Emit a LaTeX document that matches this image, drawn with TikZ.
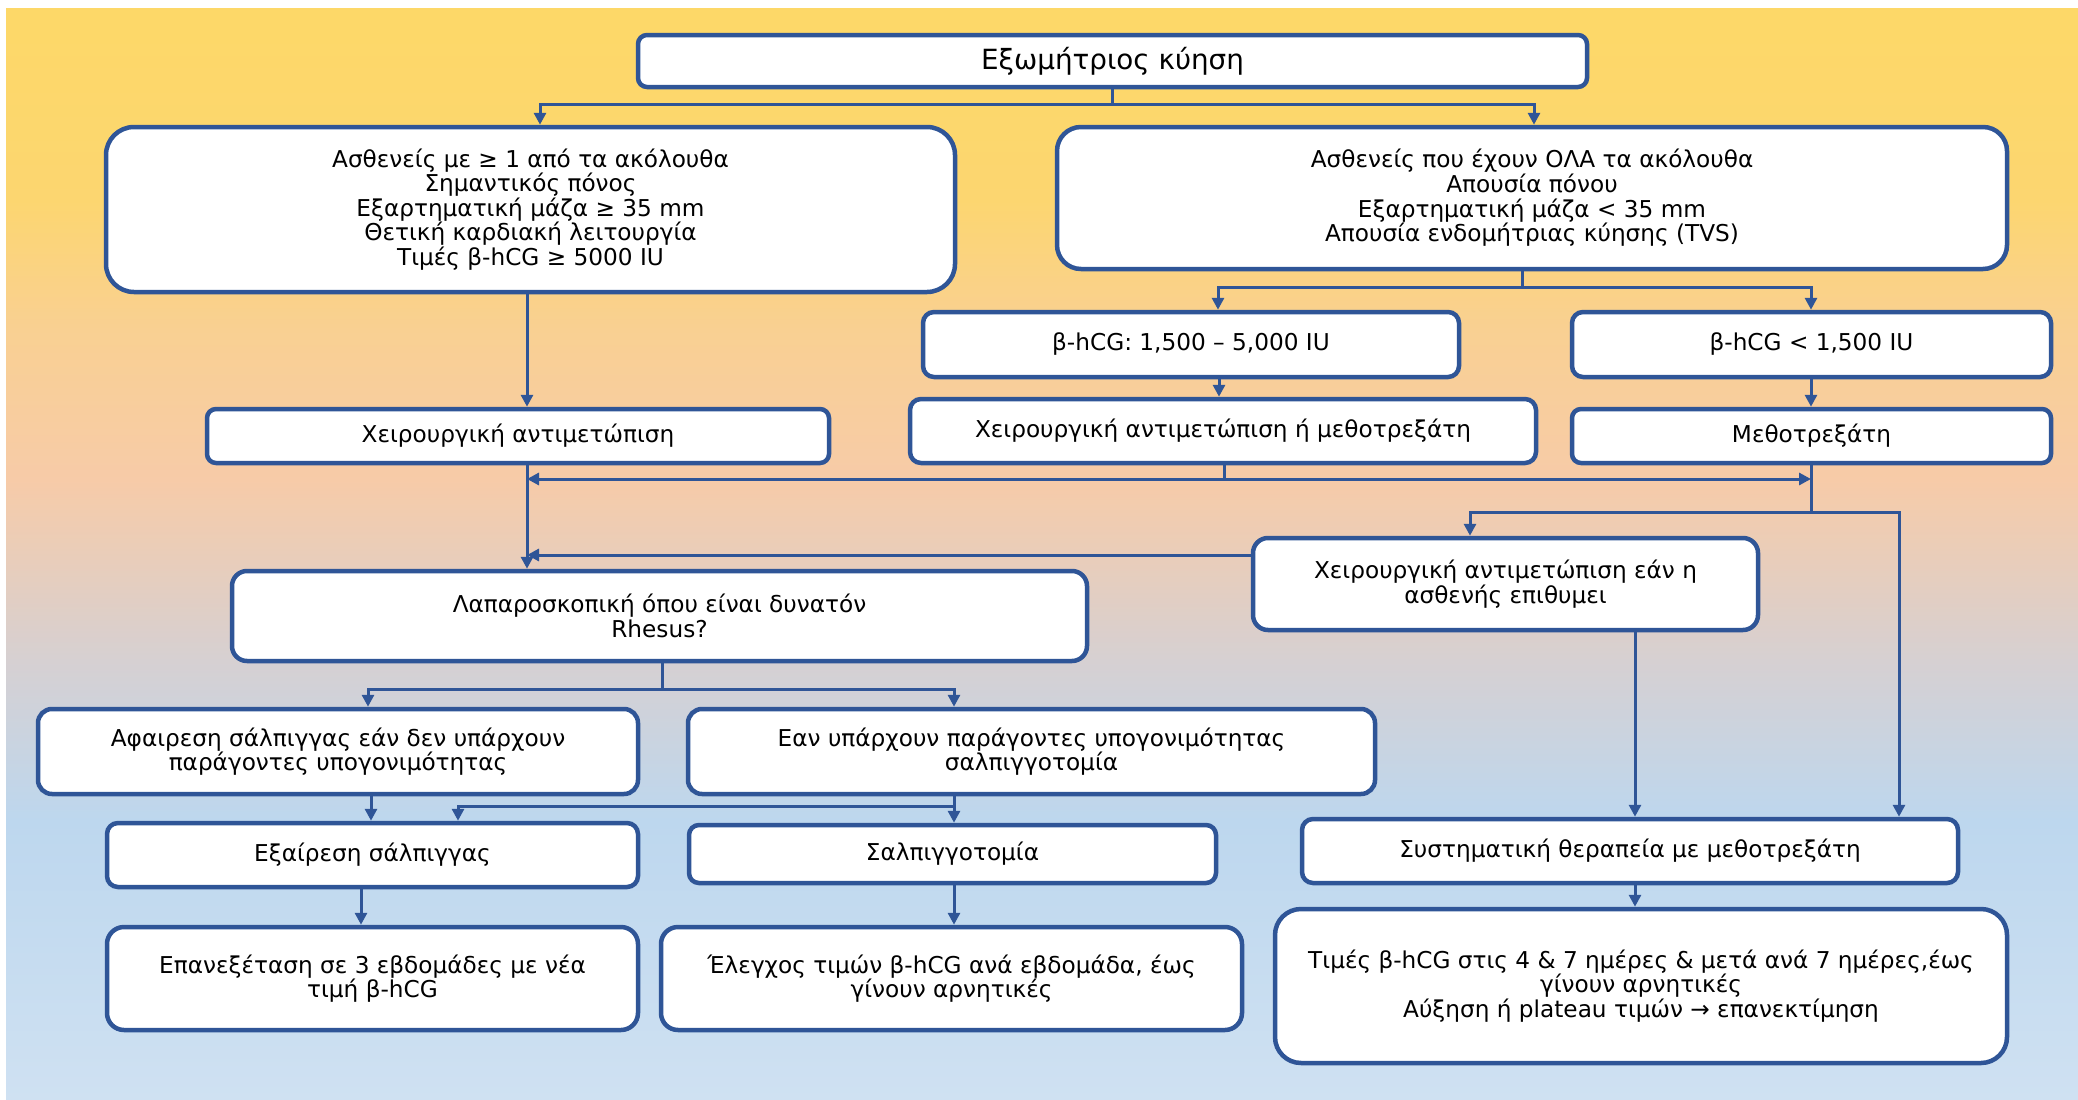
\documentclass[tikz,border=0pt]{standalone}
\usepackage{fontspec}
\setmainfont{DejaVu Sans}
\usetikzlibrary{arrows.meta}

\definecolor{edge}{RGB}{47,85,151}
\definecolor{bgA}{RGB}{207,225,242}
\definecolor{bgB}{RGB}{189,215,238}
\definecolor{bgC}{RGB}{214,208,210}
\definecolor{bgD}{RGB}{247,203,168}
\definecolor{bgE}{RGB}{249,208,146}
\definecolor{bgF}{RGB}{252,214,112}
\definecolor{bgG}{RGB}{253,216,104}

% page background: yellow at the top fading through peach to light blue
\pgfdeclareverticalshading{bgfade}{100bp}{%
  color(0bp)=(bgA); color(25bp)=(bgA); color(37.8bp)=(bgB);
  color(45.1bp)=(bgC); color(53.4bp)=(bgD); color(60.3bp)=(bgE);
  color(66.2bp)=(bgF); color(75bp)=(bgG); color(100bp)=(bgG)}

\tikzset{
  box/.style={draw=edge, line width=4.5pt, fill=white, align=center,
    inner sep=0pt, font=\fontsize{23.2}{24.6}\selectfont},
  link/.style={draw=edge, line width=3pt},
  arr/.style={link, -{Triangle[length=12pt,width=12pt]}},
}

\begin{document}
\begin{tikzpicture}[x=1pt,y=-1pt]
\useasboundingbox (0,0) rectangle (2078,1100);
\fill[white] (0,0) rectangle (2078,1100);
\shade[shading=bgfade] (6,8) rectangle (2078,1100);

% boxes
\node[box, minimum width=949, minimum height=52, rounded corners=9,
  font=\fontsize{27.8}{30}\selectfont] (T) at (1112.5,61) {Εξωμήτριος κύηση};
\node[box, minimum width=849, minimum height=165, rounded corners=28] (A) at (530.5,209.5)
  {Ασθενείς με ≥ 1 από τα ακόλουθα\\Σημαντικός πόνος\\Εξαρτηματική μάζα ≥ 35 mm\\Θετική καρδιακή λειτουργία\\Τιμές β-hCG ≥ 5000 IU};
\node[box, minimum width=950, minimum height=142, rounded corners=24] (B) at (1532,198)
  {Ασθενείς που έχουν ΟΛΑ τα ακόλουθα\\Απουσία πόνου\\Εξαρτηματική μάζα < 35 mm\\Απουσία ενδομήτριας κύησης (TVS)};
\node[box, minimum width=536, minimum height=65, rounded corners=11] (C1) at (1191,344.5)
  {β-hCG: 1,500 – 5,000 IU};
\node[box, minimum width=479, minimum height=65, rounded corners=11] (C2) at (1811.5,344.5)
  {β-hCG < 1,500 IU};
\node[box, minimum width=622, minimum height=54, rounded corners=9] (D1) at (518,436)
  {Χειρουργική αντιμετώπιση};
\node[box, minimum width=626, minimum height=64, rounded corners=11] (D2) at (1223,431)
  {Χειρουργική αντιμετώπιση ή μεθοτρεξάτη};
\node[box, minimum width=479, minimum height=54, rounded corners=9] (D3) at (1811.5,436)
  {Μεθοτρεξάτη};
\node[box, minimum width=855, minimum height=90, rounded corners=15] (E) at (659.5,616)
  {Λαπαροσκοπική όπου είναι δυνατόν\\Rhesus?};
\node[box, minimum width=505, minimum height=92, rounded corners=15] (F) at (1505.5,584)
  {Χειρουργική αντιμετώπιση εάν η\\ασθενής επιθυμει};
\node[box, minimum width=600, minimum height=85, rounded corners=14] (G1) at (338,751.5)
  {Αφαιρεση σάλπιγγας εάν δεν υπάρχουν\\παράγοντες υπογονιμότητας};
\node[box, minimum width=687, minimum height=85, rounded corners=14] (G2) at (1031.5,751.5)
  {Εαν υπάρχουν παράγοντες υπογονιμότητας\\σαλπιγγοτομία};
\node[box, minimum width=531, minimum height=64, rounded corners=11] (H1) at (372.5,855)
  {Εξαίρεση σάλπιγγας};
\node[box, minimum width=527, minimum height=58, rounded corners=10] (H2) at (952.5,854)
  {Σαλπιγγοτομία};
\node[box, minimum width=656, minimum height=64, rounded corners=11] (H3) at (1630,851)
  {Συστηματική θεραπεία με μεθοτρεξάτη};
\node[box, minimum width=531, minimum height=103, rounded corners=17] (I1) at (372.5,978.5)
  {Επανεξέταση σε 3 εβδομάδες με νέα\\τιμή β-hCG};
\node[box, minimum width=581, minimum height=103, rounded corners=17] (I2) at (951.5,978.5)
  {Έλεγχος τιμών β-hCG ανά εβδομάδα, έως\\γίνουν αρνητικές};
\node[box, minimum width=732, minimum height=154, rounded corners=26] (I3) at (1641,986)
  {Τιμές β-hCG στις 4 \& 7 ημέρες \& μετά ανά 7 ημέρες,έως\\γίνουν αρνητικές\\Αύξηση ή plateau τιμών → επανεκτίμηση};

% guide positions for the connector runs
\coordinate (xA) at (540,0);
\coordinate (xB) at (1534,0);
\coordinate (xL) at (527,0);
\coordinate (xC1) at (1218,0);
\coordinate (xR) at (1811,0);
\coordinate (xF) at (1470,0);
\coordinate (xM) at (1899,0);
\coordinate (xS) at (1635,0);
\coordinate (xG1) at (368,0);
\coordinate (xG2) at (954,0);
\coordinate (xH1) at (458,0);
\coordinate (xI1) at (361,0);
\coordinate (y1) at (0,104);
\coordinate (y2) at (0,287);
\coordinate (y3) at (0,479);
\coordinate (y4) at (0,512);
\coordinate (y5) at (0,555);
\coordinate (y6) at (0,689);
\coordinate (y7) at (0,806);

% first split
\draw[link] (T.south) -- (T.south |- y1);
\draw[arr] (T.south |- y1) -| (A.north -| xA);
\draw[arr] (T.south |- y1) -| (B.north -| xB);

% left branch down to surgery
\draw[arr] (A.south -| xL) -- (D1.north -| xL);

% right branch split by hCG level
\draw[link] (B.south -| 1522,0) -- (y2 -| 1522,0);
\draw[arr] (y2 -| 1522,0) -| (C1.north -| xC1);
\draw[arr] (y2 -| 1522,0) -| (C2.north -| xR);
\draw[arr] (C1.south -| 1219,0) -- (D2.north -| 1219,0);
\draw[arr] (C2.south -| xR) -- (D3.north -| xR);

% surgery to laparoscopy
\draw[arr] (D1.south -| xL) -- (E.north -| xL);

% surgery-or-methotrexate merges both ways
\draw[link] (D2.south -| 1224,0) -- (y3 -| 1224,0);
\draw[arr] (y3 -| 1224,0) -- (y3 -| xL);
\draw[arr] (y3 -| 1224,0) -- (y3 -| xR);

% methotrexate branch
\draw[link] (D3.south -| xR) -- (y4 -| xR);
\draw[arr] (y4 -| xR) -| (F.north -| xF);
\draw[arr] (y4 -| xR) -| (H3.north -| xM);
\draw[arr] (F.west |- y5) -- (y5 -| xL);
\draw[arr] (F.south -| xS) -- (H3.north -| xS);

% laparoscopy split
\draw[link] (E.south -| 662,0) -- (y6 -| 662,0);
\draw[arr] (y6 -| 662,0) -| (G1.north -| xG1);
\draw[arr] (y6 -| 662,0) -| (G2.north -| xG2);

% tube removal / salpingotomy
\draw[arr] (G1.south -| 371,0) -- (H1.north -| 371,0);
\draw[arr] (G2.south -| xG2) -- (H2.north -| xG2);
\draw[arr] (y7 -| xG2) -| (H1.north -| xH1);

% follow-up
\draw[arr] (H1.south -| xI1) -- (I1.north -| xI1);
\draw[arr] (H2.south -| xG2) -- (I2.north -| xG2);
\draw[arr] (H3.south -| xS) -- (I3.north -| xS);
\end{tikzpicture}
\end{document}
